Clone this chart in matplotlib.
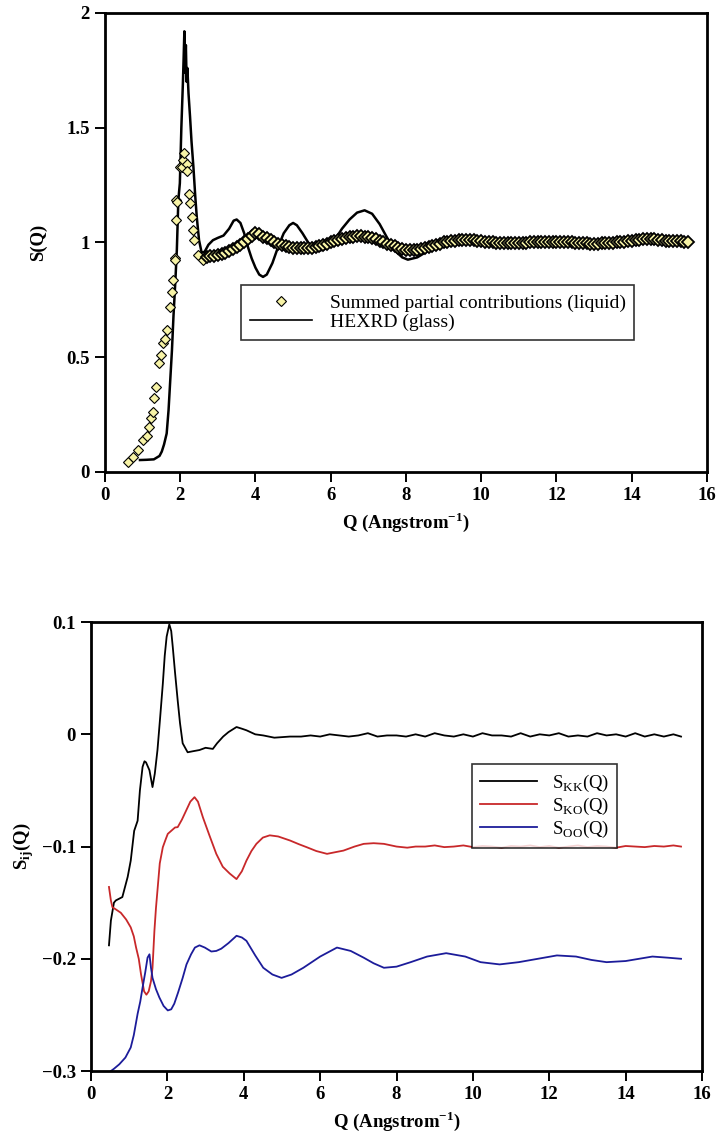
import matplotlib
matplotlib.use("Agg")
import matplotlib.pyplot as plt
from matplotlib.ticker import FuncFormatter

plt.rcParams['font.family'] = ['Liberation Serif', 'DejaVu Serif']
plt.rcParams['mathtext.fontset'] = 'custom'
plt.rcParams['mathtext.rm'] = 'Liberation Serif'
plt.rcParams['mathtext.bf'] = 'Liberation Serif:bold'

# --- total structure factor: summed partials (liquid), sparse low-Q part
q_liq_low = [0.62, 0.74, 0.87, 1.02, 1.11, 1.18, 1.22, 1.27, 1.30, 1.35,
             1.44, 1.49, 1.55, 1.60, 1.66, 1.73, 1.77, 1.80, 1.86, 1.87,
             1.89, 1.90, 1.92, 1.99, 2.04, 2.08, 2.11, 2.17, 2.19, 2.22,
             2.26, 2.31, 2.33, 2.37, 2.48, 2.61]
s_liq_low = [0.045, 0.067, 0.096, 0.14, 0.157, 0.197, 0.234, 0.263, 0.321, 0.372,
             0.474, 0.51, 0.561, 0.578, 0.619, 0.72, 0.786, 0.837, 0.932, 0.924,
             1.098, 1.185, 1.178, 1.33, 1.33, 1.36, 1.389, 1.34, 1.31, 1.21,
             1.17, 1.11, 1.054, 1.011, 0.946, 0.924]

# dense part of the same series
q_liq_band = [2.7, 2.8, 2.9, 3.0, 3.1, 3.2, 3.3, 3.4, 3.5, 3.6,
              3.7, 3.8, 3.9, 4.0, 4.1, 4.2, 4.3, 4.4, 4.5, 4.6,
              4.7, 4.8, 4.9, 5.0, 5.1, 5.2, 5.3, 5.4, 5.5, 5.6,
              5.7, 5.8, 5.9, 6.0, 6.1, 6.2, 6.3, 6.4, 6.5, 6.6,
              6.7, 6.8, 6.9, 7.0, 7.1, 7.2, 7.3, 7.4, 7.5, 7.6,
              7.7, 7.8, 7.9, 8.0, 8.1, 8.2, 8.3, 8.4, 8.5, 8.6,
              8.7, 8.8, 8.9, 9.0, 9.1, 9.2, 9.3, 9.4, 9.5, 9.6,
              9.7, 9.8, 9.9, 10.0, 10.1, 10.2, 10.3, 10.4, 10.5, 10.6,
              10.7, 10.8, 10.9, 11.0, 11.1, 11.2, 11.3, 11.4, 11.5, 11.6,
              11.7, 11.8, 11.9, 12.0, 12.1, 12.2, 12.3, 12.4, 12.5, 12.6,
              12.7, 12.8, 12.9, 13.0, 13.1, 13.2, 13.3, 13.4, 13.5, 13.6,
              13.7, 13.8, 13.9, 14.0, 14.1, 14.2, 14.3, 14.4, 14.5, 14.6,
              14.7, 14.8, 14.9, 15.0, 15.1, 15.2, 15.3, 15.4, 15.5]
s_liq_band = [0.938, 0.94, 0.942, 0.945, 0.95, 0.955, 0.962, 0.97, 0.98, 0.99,
              1.0, 1.015, 1.03, 1.04, 1.035, 1.025, 1.018, 1.01, 1.0, 0.995,
              0.99, 0.985, 0.982, 0.978, 0.975, 0.974, 0.974, 0.975, 0.977, 0.98,
              0.985, 0.99, 0.995, 1.0, 1.005, 1.01, 1.015, 1.02, 1.023, 1.025,
              1.026, 1.026, 1.025, 1.022, 1.018, 1.013, 1.007, 1.0, 0.995, 0.99,
              0.985, 0.978, 0.972, 0.968, 0.966, 0.965, 0.967, 0.97, 0.975, 0.98,
              0.985, 0.99, 0.995, 1.0, 1.003, 1.006, 1.008, 1.01, 1.011, 1.011,
              1.01, 1.009, 1.008, 1.006, 1.004, 1.002, 1.0, 0.999, 0.998, 0.997,
              0.996, 0.996, 0.996, 0.997, 0.998, 0.999, 1.0, 1.001, 1.002, 1.003,
              1.004, 1.004, 1.004, 1.003, 1.003, 1.002, 1.001, 1.0, 0.999, 0.998,
              0.997, 0.996, 0.995, 0.995, 0.995, 0.996, 0.997, 0.998, 0.999, 1.0,
              1.002, 1.004, 1.006, 1.008, 1.01, 1.012, 1.013, 1.014, 1.014, 1.013,
              1.012, 1.01, 1.008, 1.007, 1.006, 1.005, 1.005, 1.004, 1.004]

# HEXRD measurement on the glass
q_glass = [0.93, 1.1, 1.3, 1.45, 1.51, 1.57, 1.64, 1.69, 1.73, 1.78,
           1.82, 1.87, 1.91, 1.95, 1.99, 2.03, 2.07, 2.09, 2.11, 2.13,
           2.15, 2.17, 2.19, 2.22, 2.26, 2.30, 2.35, 2.40, 2.44, 2.50,
           2.57, 2.65, 2.75, 2.87, 3.0, 3.15, 3.3, 3.42, 3.5, 3.6,
           3.7, 3.8, 3.9, 4.0, 4.1, 4.2, 4.3, 4.45, 4.6, 4.75,
           4.9, 5.0, 5.1, 5.25, 5.4, 5.55, 5.72, 5.9, 6.1, 6.3,
           6.5, 6.7, 6.9, 7.1, 7.3, 7.5, 7.7, 7.9, 8.05, 8.3,
           8.6, 8.9, 9.2, 9.5, 9.8, 10.2, 10.7, 11.2, 11.8, 12.4,
           13.0, 13.6, 14.2, 14.8, 15.5]
s_glass = [0.052, 0.053, 0.055, 0.07, 0.089, 0.12, 0.168, 0.27, 0.386, 0.53,
           0.677, 0.83, 0.967, 1.185, 1.258, 1.5, 1.69, 1.8, 1.92, 1.74,
           1.86, 1.70, 1.76, 1.65, 1.55, 1.44, 1.33, 1.20, 1.11, 1.01,
           0.955, 0.96, 0.99, 1.01, 1.02, 1.03, 1.06, 1.095, 1.10, 1.085,
           1.04, 0.98, 0.93, 0.89, 0.86, 0.85, 0.86, 0.91, 0.98, 1.04,
           1.075, 1.085, 1.075, 1.04, 1.0, 0.975, 0.965, 0.975, 1.01, 1.06,
           1.10, 1.13, 1.14, 1.125, 1.08, 1.02, 0.965, 0.935, 0.925, 0.935,
           0.965, 0.99, 1.005, 1.015, 1.01, 1.0, 0.995, 0.998, 1.002, 1.0,
           0.996, 1.002, 1.008, 1.006, 1.004]

# --- partial structure factors
q_kk = [0.47, 0.52, 0.60, 0.65, 0.82, 0.96, 1.04, 1.13, 1.22, 1.28,
        1.35, 1.40, 1.44, 1.53, 1.61, 1.67, 1.74, 1.81, 1.88, 1.93,
        1.98, 2.05, 2.10, 2.14, 2.20, 2.27, 2.33, 2.40, 2.53, 2.68,
        2.84, 3.0, 3.19, 3.3, 3.46, 3.6, 3.81, 3.95, 4.07, 4.3,
        4.51, 4.8, 5.21, 5.5, 5.75, 6.0, 6.25, 6.5, 6.75, 7.0,
        7.25, 7.5, 7.75, 8.0, 8.25, 8.5, 8.75, 9.0, 9.25, 9.5,
        9.75, 10.0, 10.25, 10.5, 10.75, 11.0, 11.25, 11.5, 11.75, 12.0,
        12.25, 12.5, 12.75, 13.0, 13.25, 13.5, 13.75, 14.0, 14.25, 14.5,
        14.75, 15.0, 15.25, 15.45]
s_kk = [-0.188, -0.166, -0.15, -0.148, -0.145, -0.127, -0.1125, -0.086, -0.077, -0.05,
        -0.029, -0.024, -0.025, -0.032, -0.047, -0.035, -0.014, 0.015, 0.045, 0.07,
        0.087, 0.098, 0.092, 0.078, 0.055, 0.030, 0.01, -0.008, -0.016, -0.015,
        -0.014, -0.012, -0.013, -0.008, -0.002, 0.002, 0.0065, 0.005, 0.0036, 0.0,
        -0.001, -0.003, -0.002, -0.002, -0.001, -0.002, 0.0, -0.001, -0.002, -0.001,
        0.001, -0.002, -0.001, -0.001, -0.002, 0.0, -0.002, 0.001, -0.001, -0.002,
        0.0, -0.002, 0.001, -0.001, -0.001, -0.002, 0.001, -0.002, 0.0, -0.001,
        0.001, -0.002, -0.001, -0.002, 0.001, -0.001, 0.0, -0.002, 0.001, -0.002,
        0.0, -0.002, 0.0, -0.002]

q_ko = [0.47, 0.52, 0.56, 0.65, 0.78, 0.92, 1.04, 1.12, 1.18, 1.25,
        1.31, 1.39, 1.45, 1.51, 1.57, 1.61, 1.66, 1.70, 1.74, 1.80,
        1.88, 1.95, 2.01, 2.10, 2.20, 2.27, 2.38, 2.49, 2.60, 2.71,
        2.80, 2.93, 3.1, 3.28, 3.45, 3.63, 3.81, 3.95, 4.07, 4.2,
        4.33, 4.5, 4.68, 4.9, 5.21, 5.45, 5.65, 5.9, 6.18, 6.4,
        6.61, 6.9, 7.14, 7.4, 7.67, 8.0, 8.28, 8.5, 8.75, 9.0,
        9.25, 9.5, 9.75, 10.0, 10.25, 10.5, 10.75, 11.0, 11.25, 11.5,
        11.75, 12.0, 12.25, 12.5, 12.75, 13.0, 13.25, 13.5, 13.75, 14.0,
        14.25, 14.5, 14.75, 15.0, 15.25, 15.45]
s_ko = [-0.136, -0.148, -0.154, -0.156, -0.159, -0.165, -0.172, -0.18, -0.19, -0.20,
        -0.214, -0.229, -0.232, -0.229, -0.22, -0.208, -0.175, -0.155, -0.139, -0.115,
        -0.1006, -0.094, -0.0887, -0.086, -0.083, -0.0827, -0.076, -0.068, -0.06, -0.056,
        -0.06, -0.074, -0.09, -0.1065, -0.118, -0.124, -0.129, -0.122, -0.1125, -0.104,
        -0.0976, -0.092, -0.090, -0.091, -0.0946, -0.098, -0.1006, -0.104, -0.1065, -0.105,
        -0.1036, -0.1, -0.0976, -0.097, -0.0976, -0.1, -0.101, -0.1, -0.1, -0.099,
        -0.1005, -0.1, -0.099, -0.1005, -0.0995, -0.1, -0.101, -0.0995, -0.1, -0.099,
        -0.1005, -0.0995, -0.101, -0.1, -0.099, -0.1005, -0.0995, -0.1, -0.101, -0.0995,
        -0.1, -0.1005, -0.0995, -0.1, -0.099, -0.1]

q_oo = [0.52, 0.6, 0.74, 0.9, 1.04, 1.12, 1.22, 1.29, 1.35, 1.42,
        1.48, 1.53, 1.57, 1.61, 1.7, 1.79, 1.9, 2.01, 2.1, 2.18,
        2.28, 2.40, 2.5, 2.62, 2.72, 2.84, 2.98, 3.15, 3.28, 3.41,
        3.6, 3.81, 3.95, 4.07, 4.3, 4.51, 4.75, 4.99, 5.25, 5.56,
        6.0, 6.44, 6.8, 7.14, 7.4, 7.67, 8.0, 8.37, 8.8, 9.3,
        9.8, 10.2, 10.7, 11.2, 11.7, 12.2, 12.7, 13.1, 13.5, 14.0,
        14.7, 15.1, 15.45]
s_oo = [-0.30, -0.298, -0.294, -0.288, -0.279, -0.268, -0.249, -0.238, -0.2256, -0.212,
        -0.199, -0.196, -0.208, -0.217, -0.227, -0.2345, -0.242, -0.246, -0.245, -0.240,
        -0.23, -0.217, -0.205, -0.196, -0.19, -0.188, -0.19, -0.1935, -0.193, -0.191,
        -0.186, -0.1795, -0.181, -0.184, -0.197, -0.208, -0.214, -0.217, -0.214, -0.208,
        -0.198, -0.19, -0.193, -0.199, -0.204, -0.208, -0.207, -0.203, -0.198, -0.195,
        -0.198, -0.203, -0.205, -0.203, -0.2, -0.197, -0.198, -0.201, -0.203, -0.202,
        -0.198, -0.199, -0.2]

top_yticks = [0, 0.5, 1, 1.5, 2]
bot_yticks = [-0.3, -0.2, -0.1, 0, 0.1]
xticks = [0, 2, 4, 6, 8, 10, 12, 14, 16]

FS = 13.5
DIAMOND = dict(ls='none', marker='D', mfc='#f7f3a6', mec='black')


def tick_fmt(v, pos):
    s = '%g' % round(v, 3)
    return s.replace('-', '\u2212')


def style_axes(ax):
    for sp in ax.spines.values():
        sp.set_linewidth(2.0)
    ax.tick_params(direction='out', length=7, width=1.4, top=False, right=False,
                   labelsize=FS, pad=4)
    for lab in ax.get_xticklabels() + ax.get_yticklabels():
        lab.set_fontweight('bold')
    ax.set_xlim(0, 16)
    ax.set_xticks(xticks)
    ax.xaxis.set_major_formatter(FuncFormatter(tick_fmt))
    ax.yaxis.set_major_formatter(FuncFormatter(tick_fmt))


fig = plt.figure(figsize=(7.19, 11.45), dpi=100)

# top panel: S(Q)
ax1 = fig.add_axes([0.146, 0.5878, 0.8373, 0.4009])
ax1.plot(q_glass, s_glass, color='black', lw=1.8, zorder=2)
ax1.plot(q_liq_low, s_liq_low, ms=5.5, mew=0.8, zorder=3, **DIAMOND)
# the high-Q points sit so close together that their outlines merge into a band
ax1.plot(q_liq_band, s_liq_band, ms=6.5, mew=1.3, zorder=3, **DIAMOND)
ax1.set_ylim(0, 2)
ax1.set_yticks(top_yticks)
style_axes(ax1)
ax1.set_ylabel('S(Q)', fontsize=FS, fontweight='bold', labelpad=14)
ax1.set_xlabel(r'Q (Angstrom$^{\mathbf{-1}}$)', fontsize=FS, fontweight='bold', labelpad=4)

h1 = plt.Line2D([], [], ms=5, mew=0.8, **DIAMOND)
h2 = plt.Line2D([], [], color='black', lw=1.2)
leg1 = ax1.legend([h1, h2], ['Summed partial contributions (liquid)', 'HEXRD (glass)'],
                  loc='upper left', bbox_to_anchor=(0.226, 0.407), frameon=True,
                  fancybox=False, edgecolor='black', fontsize=14, handlelength=3.2,
                  handletextpad=0.9, labelspacing=0.1, borderpad=0.45, borderaxespad=0)
leg1.get_frame().set_linewidth(1.2)

# bottom panel: partial S_ij(Q)
ax2 = fig.add_axes([0.1266, 0.0646, 0.8498, 0.3921])
ax2.plot(q_kk, s_kk, color='black', lw=1.3, label=r'S$_{\mathrm{KK}}$(Q)')
ax2.plot(q_ko, s_ko, color='#c8282a', lw=1.3, label=r'S$_{\mathrm{KO}}$(Q)')
ax2.plot(q_oo, s_oo, color='#1c1c9a', lw=1.3, label=r'S$_{\mathrm{OO}}$(Q)')
ax2.set_ylim(-0.3, 0.1)
ax2.set_yticks(bot_yticks)
style_axes(ax2)
ax2.set_ylabel(r'S$_{\mathbf{ij}}$(Q)', fontsize=FS, fontweight='bold', labelpad=4)
ax2.set_xlabel(r'Q (Angstrom$^{\mathbf{-1}}$)', fontsize=FS, fontweight='bold', labelpad=4)
leg2 = ax2.legend(loc='upper left', bbox_to_anchor=(0.6236, 0.6837), frameon=True,
                  fancybox=False, edgecolor='black', fontsize=13.5, handlelength=3.0,
                  handletextpad=0.8, labelspacing=0.1, borderpad=0.45, borderaxespad=0)
leg2.get_frame().set_linewidth(1.2)

fig.savefig('out.png', dpi=100)
